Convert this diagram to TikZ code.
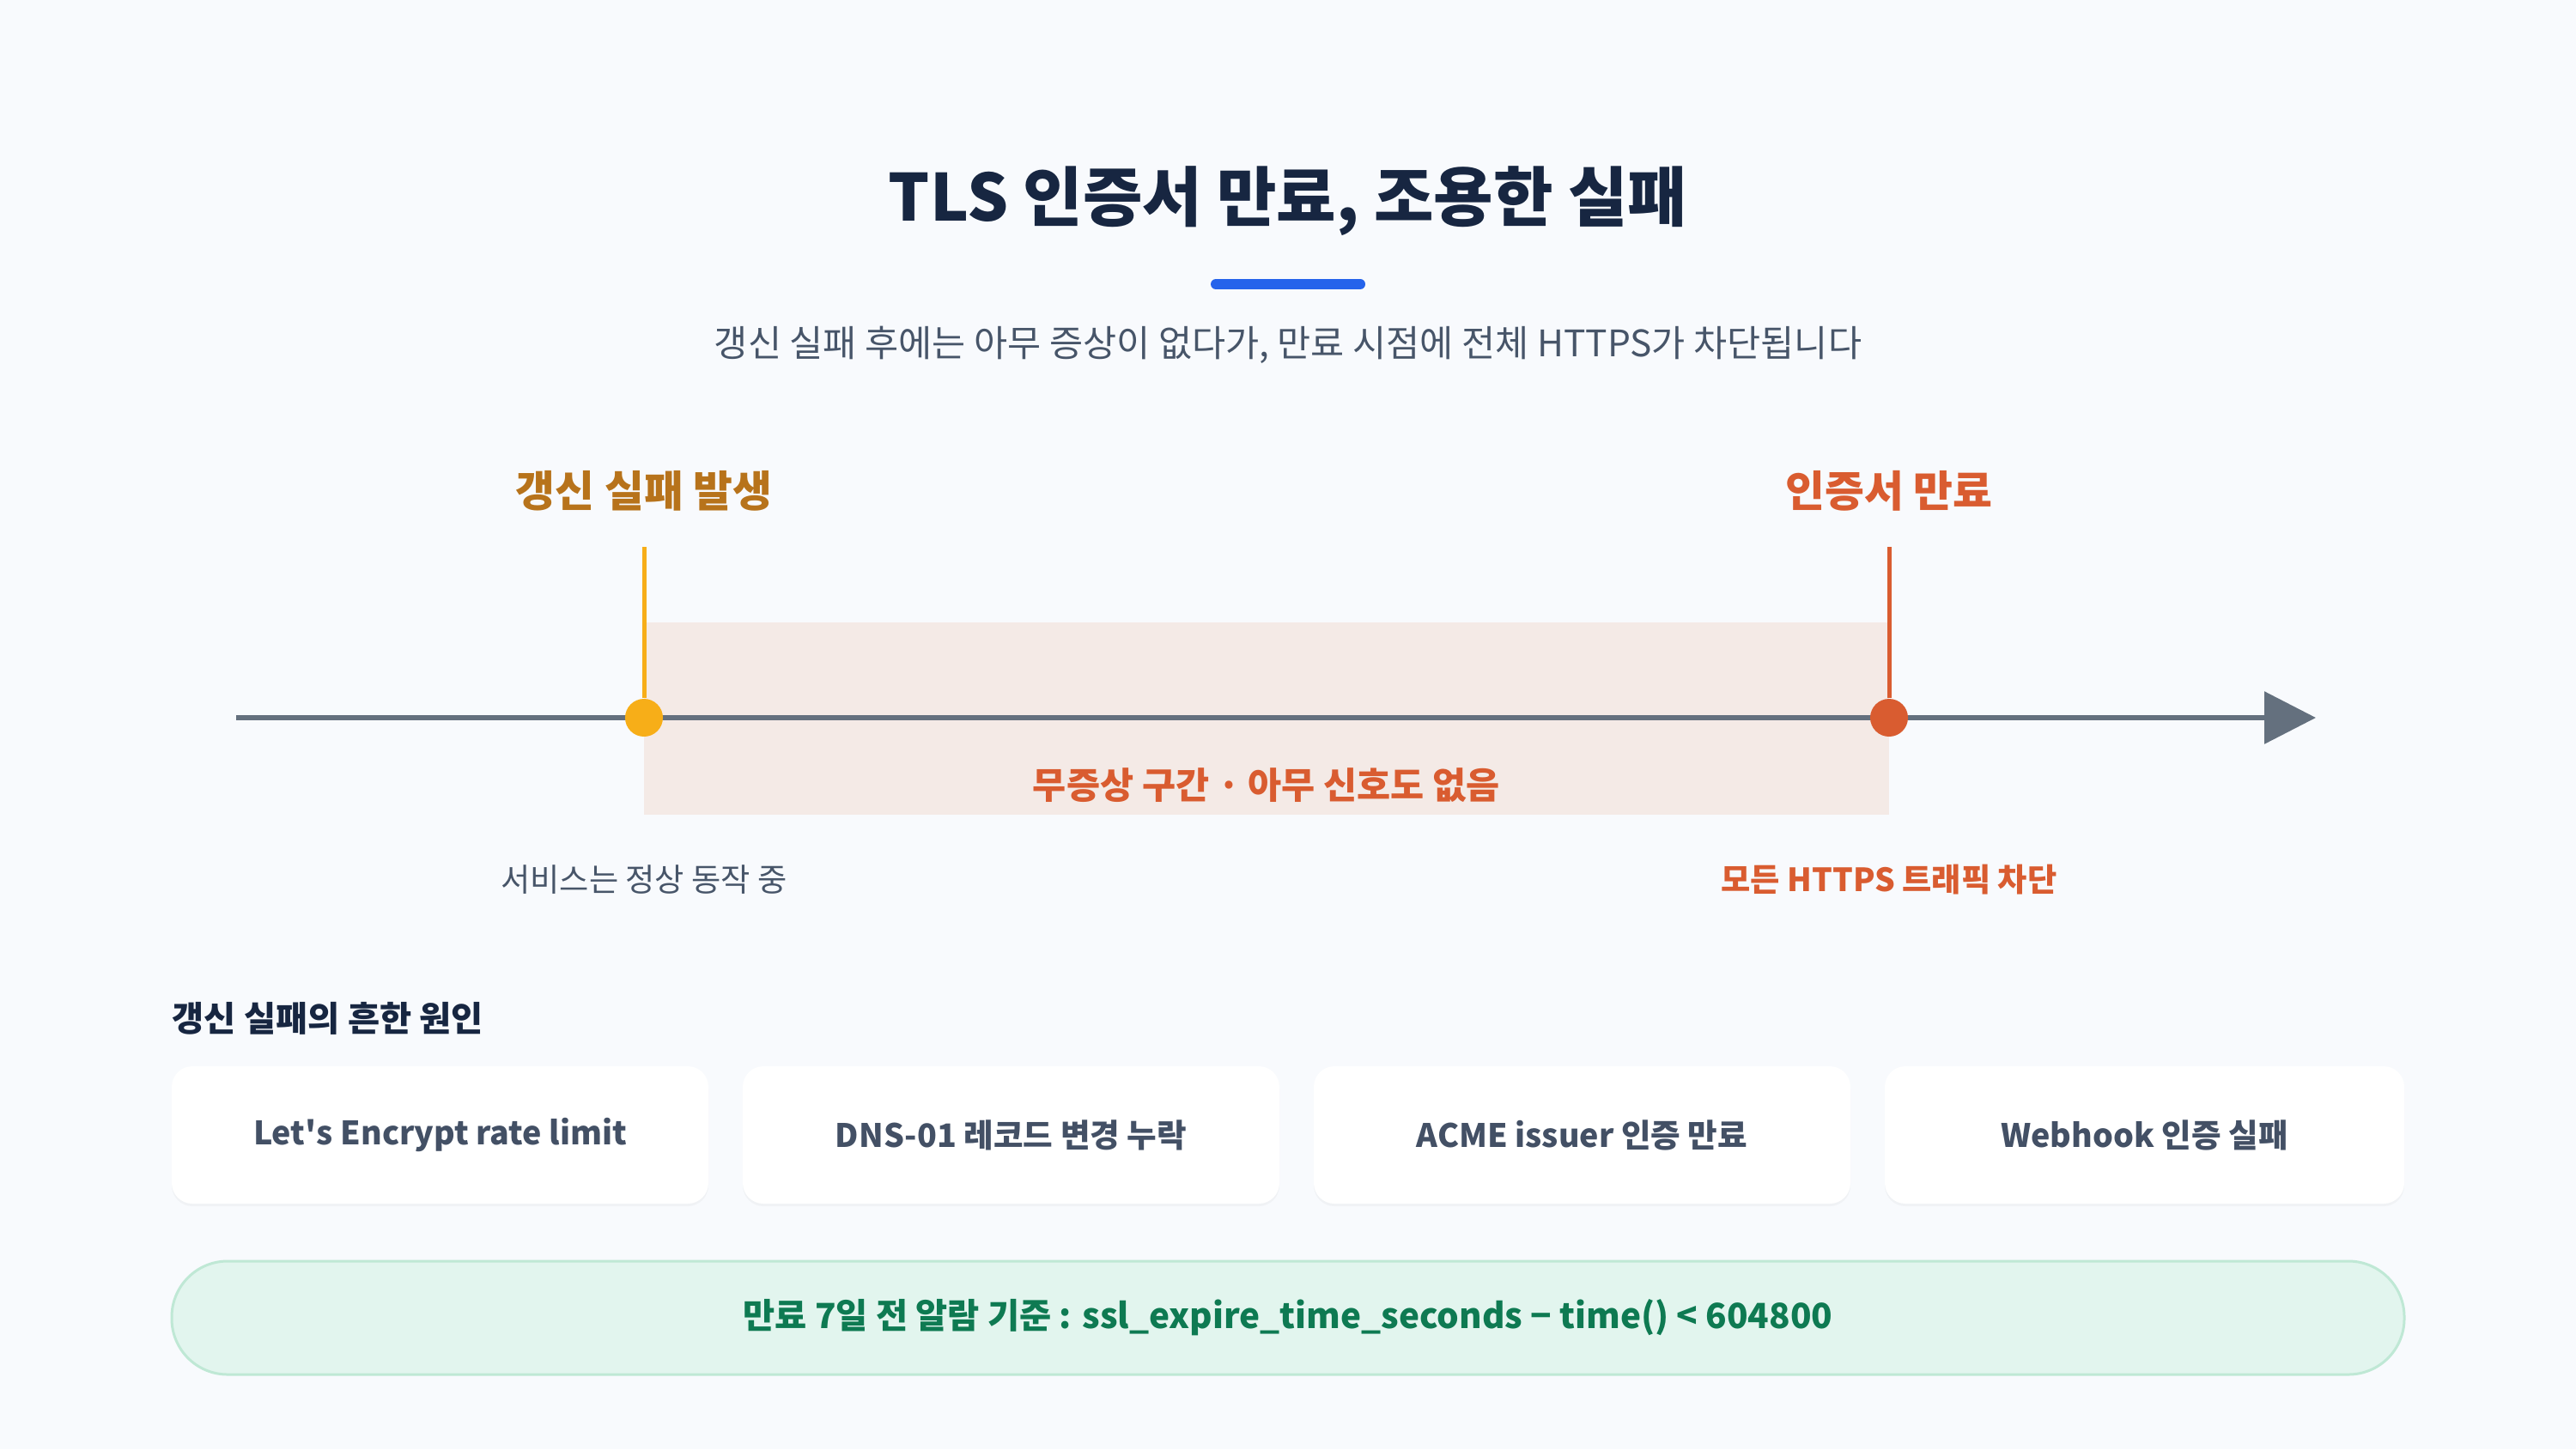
\documentclass[tikz,border=0pt]{standalone}
\usepackage{fontspec}
\setmainfont{Noto Sans CJK KR}
\usetikzlibrary{arrows.meta,shadows}

\definecolor{pagebg}{HTML}{F8FAFD}
\definecolor{navy}{HTML}{172641}
\definecolor{slatetext}{HTML}{475569}
\definecolor{cardtext}{HTML}{435065}
\definecolor{axisgray}{HTML}{64707E}
\definecolor{accentblue}{HTML}{2563EB}
\definecolor{failyellow}{HTML}{F7AE18}
\definecolor{failbrown}{HTML}{B7731B}
\definecolor{expirered}{HTML}{D95C30}
\definecolor{quietband}{HTML}{F4EAE6}
\definecolor{alertfill}{HTML}{E2F5EE}
\definecolor{alertline}{HTML}{BFE8D5}
\definecolor{alertgreen}{HTML}{0E7A52}

\begin{document}
\begin{tikzpicture}[
    titletext/.style={font=\bfseries\fontsize{21.5}{24}\selectfont, text=navy},
    subtext/.style={font=\fontsize{12.1}{14}\selectfont, text=slatetext},
    eventlabel/.style={font=\bfseries\fontsize{14.2}{17}\selectfont},
    eventdot/.style={circle, inner sep=0pt, minimum size=0.44cm},
    smalllabel/.style={font=\fontsize{10.6}{13}\selectfont},
    causecard/.style={fill=white, rounded corners=0.24cm, minimum height=1.6cm,
        font=\bfseries\fontsize{10.7}{13}\selectfont, text=cardtext,
        drop shadow={shadow xshift=0pt, shadow yshift=-0.03cm, opacity=0.06}},
]
    % Background
    \fill[pagebg] (0,0) rectangle (30,-16.88);
    \useasboundingbox (0,0) rectangle (30,-16.88);

    % Title
    \node[titletext] (title) at (15,-2.34) {TLS 인증서 만료, 조용한 실패};
    \draw[accentblue, line width=0.12cm, line cap=round] (14.16,-3.31) -- (15.84,-3.31);
    \node[subtext] (subtitle) at (15,-4.02) {갱신 실패 후에는 아무 증상이 없다가, 만료 시점에 전체 HTTPS가 차단됩니다};

    % Quiet period band
    \fill[quietband] (7.5,-7.25) rectangle (22,-9.49);
    \node[font=\bfseries\fontsize{12.1}{14}\selectfont, text=expirered] (quietLabel) at (14.75,-9.15) {무증상 구간 · 아무 신호도 없음};

    % Timeline axis
    \coordinate (axisStart) at (2.75,-8.36);
    \coordinate (axisEnd) at (26.97,-8.36);
    \draw[axisgray, line width=0.06cm, -{Triangle[length=0.6cm,width=0.6cm]}] (axisStart) -- (axisEnd);

    % Renewal failure
    \coordinate (failTop) at (7.5,-6.37);
    \node[eventdot, fill=failyellow] (failDot) at (7.5,-8.36) {};
    \draw[failyellow, line width=0.05cm] (failTop) -- (failDot);
    \node[eventlabel, text=failbrown] (failLabel) at (7.5,-5.72) {갱신 실패 발생};
    \node[smalllabel, text=slatetext] (failNote) at (7.5,-10.25) {서비스는 정상 동작 중};

    % Certificate expiry
    \coordinate (expireTop) at (22,-6.37);
    \node[eventdot, fill=expirered] (expireDot) at (22,-8.36) {};
    \draw[expirered, line width=0.05cm] (expireTop) -- (expireDot);
    \node[eventlabel, text=expirered] (expireLabel) at (22,-5.72) {인증서 만료};
    \node[smalllabel, font=\bfseries\fontsize{10.6}{13}\selectfont, text=expirered] (expireNote) at (22,-10.25) {모든 HTTPS 트래픽 차단};

    % Common causes
    \node[anchor=west, font=\bfseries\fontsize{11.5}{13}\selectfont, text=navy, inner sep=0pt] (causeTitle) at (2.0,-11.86) {갱신 실패의 흔한 원인};
    \node[causecard, minimum width=6.25cm] (causeRate) at (5.125,-13.22) {Let\textquotesingle s Encrypt rate limit};
    \node[causecard, minimum width=6.25cm] (causeDns) at (11.775,-13.22) {DNS-01 레코드 변경 누락};
    \node[causecard, minimum width=6.25cm] (causeAcme) at (18.425,-13.22) {ACME issuer 인증 만료};
    \node[causecard, minimum width=6.05cm] (causeHook) at (24.975,-13.22) {Webhook 인증 실패};

    % Alert rule
    \node[fill=alertfill, draw=alertline, line width=0.03cm, rounded corners=0.65cm,
        minimum width=26cm, minimum height=1.32cm,
        font=\bfseries\fontsize{11.5}{13}\selectfont, text=alertgreen] (alertRule) at (15,-15.35)
        {\raisebox{-1.1pt}{만료 7일 전 알람 기준 : ssl\_expire\_time\_seconds − time() < 604800}};
\end{tikzpicture}
\end{document}
